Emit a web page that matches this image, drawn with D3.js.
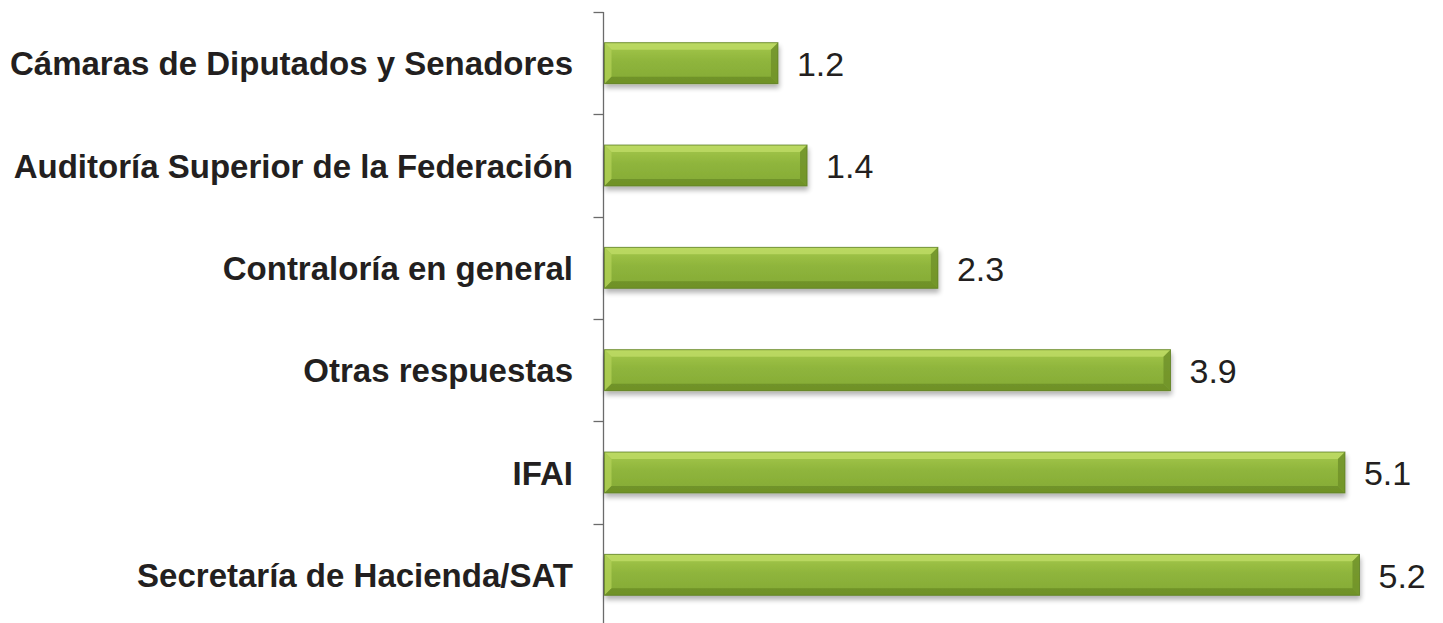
<!DOCTYPE html>
<html>
<head>
<meta charset="utf-8">
<script src="https://cdn.jsdelivr.net/npm/d3@7"></script>
<style>
  body { margin: 0; background: #fff; }
  svg { display: block; }
</style>
</head>
<body>
<div id="chart"></div>
<script>
// Chart data
const categories = [
    'Cámaras de Diputados y Senadores',
    'Auditoría Superior de la Federación',
    'Contraloría en general',
    'Otras respuestas',
    'IFAI',
    'Secretaría de Hacienda/SAT'
];
const values = [1.2, 1.4, 2.3, 3.9, 5.1, 5.2];

const width = 1443, height = 623;
const axisX = 603.5;
const font = "'Liberation Sans', Arial, sans-serif";

const svg = d3.select('#chart').append('svg')
    .attr('width', width)
    .attr('height', height);

const defs = svg.append('defs');

// vertical gradient for the bar body
const grad = defs.append('linearGradient')
    .attr('id', 'barGrad')
    .attr('x1', 0).attr('y1', 0).attr('x2', 0).attr('y2', 1);
grad.append('stop').attr('offset', '0%').attr('stop-color', '#a5c84c');
grad.append('stop').attr('offset', '45%').attr('stop-color', '#8fb53c');
grad.append('stop').attr('offset', '100%').attr('stop-color', '#84aa35');

// soft shadow under the bars
const shadow = defs.append('filter')
    .attr('id', 'shadow')
    .attr('x', '-5%').attr('y', '-20%').attr('width', '110%').attr('height', '160%');
shadow.append('feGaussianBlur').attr('in', 'SourceAlpha').attr('stdDeviation', 2.5);
shadow.append('feOffset').attr('dx', 1).attr('dy', 4).attr('result', 'blur');
shadow.append('feComponentTransfer').append('feFuncA').attr('type', 'linear').attr('slope', 0.3);
const merge = shadow.append('feMerge');
merge.append('feMergeNode');
merge.append('feMergeNode').attr('in', 'SourceGraphic');

// Scales
const x = d3.scaleLinear()
    .domain([0, 5.2])
    .range([axisX, 1359.5]);

const y = d3.scaleBand()
    .domain(categories)
    .range([12, 626])
    .paddingInner(0.6)
    .paddingOuter(0.3);

// Axis with ticks between categories
const step = y.step();
const axisTop = y(categories[0]) - y.paddingOuter() * step;
const tickYs = d3.range(categories.length + 1).map(i => axisTop + i * step);

svg.append('line')
    .attr('x1', axisX).attr('x2', axisX)
    .attr('y1', axisTop).attr('y2', height)
    .attr('stroke', '#6b6b6b')
    .attr('stroke-width', 1.3);

svg.selectAll('.tick')
    .data(tickYs)
    .join('line')
    .attr('class', 'tick')
    .attr('x1', axisX - 10).attr('x2', axisX)
    .attr('y1', d => Math.round(d) + 0.5).attr('y2', d => Math.round(d) + 0.5)
    .attr('stroke', '#6b6b6b')
    .attr('stroke-width', 1.3);

// Bars
const bev = 7;
const bars = svg.selectAll('.bar')
    .data(values)
    .join('g')
    .attr('class', 'bar')
    .attr('filter', 'url(#shadow)');

bars.each(function (d, i) {
    const g = d3.select(this);
    const x0 = x(0) + 1, x1 = x(d);
    const y0 = y(categories[i]), y1 = y0 + y.bandwidth();

    g.append('rect')
        .attr('x', x0).attr('y', y0)
        .attr('width', x1 - x0).attr('height', y1 - y0)
        .attr('fill', 'url(#barGrad)');

    // bevel faces
    const face = (pts, fill, op) => g.append('polygon')
        .attr('points', pts.map(p => p.join(',')).join(' '))
        .attr('fill', fill)
        .attr('fill-opacity', op);
    face([[x0, y0], [x1, y0], [x1 - bev, y0 + bev], [x0 + bev, y0 + bev]], '#c2dd6a', 0.75);
    face([[x0, y0], [x0 + bev, y0 + bev], [x0 + bev, y1 - bev], [x0, y1]], '#b0d056', 0.8);
    face([[x0, y1], [x0 + bev, y1 - bev], [x1 - bev, y1 - bev], [x1, y1]], '#6a8c26', 0.8);
    face([[x1, y0], [x1, y1], [x1 - bev, y1 - bev], [x1 - bev, y0 + bev]], '#70922a', 0.85);

    g.append('rect')
        .attr('x', x0).attr('y', y0)
        .attr('width', x1 - x0).attr('height', y1 - y0)
        .attr('fill', 'none')
        .attr('stroke', '#5f7f24')
        .attr('stroke-opacity', 0.8)
        .attr('stroke-width', 1);
});

// Category labels
svg.selectAll('.cat')
    .data(categories)
    .join('text')
    .attr('class', 'cat')
    .attr('x', 573)
    .attr('y', d => y(d) + y.bandwidth() / 2)
    .attr('dy', '0.37em')
    .attr('text-anchor', 'end')
    .attr('font-family', font)
    .attr('font-weight', 'bold')
    .attr('font-size', 33)
    .attr('fill', '#231f20')
    .text(d => d);

// Value labels
svg.selectAll('.val')
    .data(values)
    .join('text')
    .attr('class', 'val')
    .attr('x', d => x(d) + 19)
    .attr('y', (d, i) => y(categories[i]) + y.bandwidth() / 2)
    .attr('dy', '0.38em')
    .attr('font-family', font)
    .attr('font-size', 34)
    .attr('fill', '#231f20')
    .text(d => d.toFixed(1));
</script>
</body>
</html>
